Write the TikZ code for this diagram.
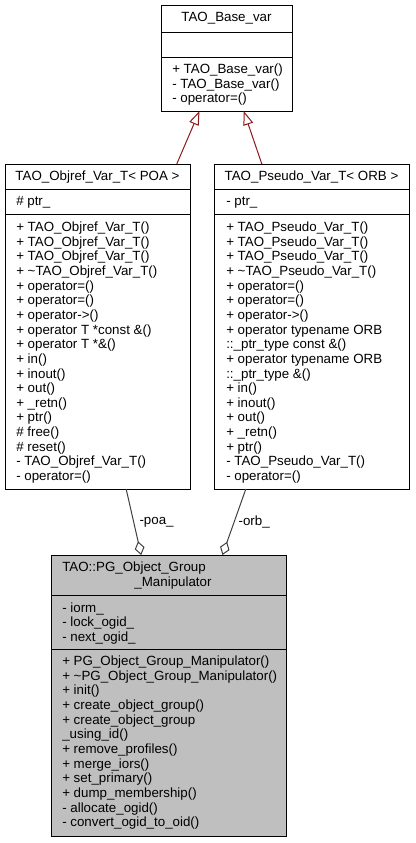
\documentclass[tikz,border=0pt]{standalone}
\usepackage{fontspec}
\setmainfont{Liberation Sans}
\usetikzlibrary{arrows.meta}
\definecolor{edgered}{HTML}{8B1A1A}
\definecolor{edgegray}{HTML}{404040}
\definecolor{boxgray}{HTML}{BFBFBF}
\tikzset{
  classbox/.style={draw=black, line width=0.75pt, fill=white, inner sep=0pt, outer sep=0pt, anchor=north west},
  member/.style={anchor=base west, inner sep=0pt},
  classname/.style={anchor=base, inner sep=0pt},
  inherit/.style={draw=edgered, line width=0.75pt, -{Triangle[open, length=10.5pt, width=7.5pt]}},
  aggr/.style={draw=edgegray, line width=0.75pt, {Diamond[open, length=10.5pt, width=7.5pt]}-},
  every node/.append style={font=\fontsize{10}{12}\selectfont}
}
\begin{document}
\begin{tikzpicture}[x=0.75pt, y=-0.75pt]
\fill[white] (0,0) rectangle (415,843);
\useasboundingbox (0,0) rectangle (415,843);
% boxes
\node[classbox, minimum width=98.25pt, minimum height=79.5pt] (base) at (161,5) {};
\node[classbox, minimum width=138.75pt, minimum height=243.75pt] (objref) at (5,164) {};
\node[classbox, minimum width=146.25pt, minimum height=243.75pt] (pseudo) at (214,164) {};
\node[classbox, fill=boxgray, minimum width=176.25pt, minimum height=210.75pt] (manip) at (51,555) {};
\draw [black, line width=0.75pt] (161,32) -- (292,32);
\draw [black, line width=0.75pt] (161,57) -- (292,57);
\draw [black, line width=0.75pt] (5,189) -- (190,189);
\draw [black, line width=0.75pt] (5,214) -- (190,214);
\draw [black, line width=0.75pt] (214,189) -- (409,189);
\draw [black, line width=0.75pt] (214,214) -- (409,214);
\draw [black, line width=0.75pt] (51,595) -- (286,595);
\draw [black, line width=0.75pt] (51,649) -- (286,649);
% TAO_Base_var
\node[classname] (bt) at (226.5,21.5) {TAO\_Base\_var};
\node[member] (bm1) at (172,73.5) {+ TAO\_Base\_var()};
\node[member] (bm2) at (172,88) {- TAO\_Base\_var()};
\node[member] (bm3) at (172,102.5) {- operator=()};
% TAO_Objref_Var_T
\node[classname] (ot) at (97.5,180.5) {TAO\_Objref\_Var\_T< POA >};
\node[member] (oa1) at (16,205.5) {\# ptr\_};
\node[member] (om1) at (16,231.5) {+ TAO\_Objref\_Var\_T()};
\node[member] (om2) at (16,246.15) {+ TAO\_Objref\_Var\_T()};
\node[member] (om3) at (16,260.8) {+ TAO\_Objref\_Var\_T()};
\node[member] (om4) at (16,275.45) {+ \textasciitilde TAO\_Objref\_Var\_T()};
\node[member] (om5) at (16,290.1) {+ operator=()};
\node[member] (om6) at (16,304.75) {+ operator=()};
\node[member] (om7) at (16,319.4) {+ operator->()};
\node[member] (om8) at (16,334.05) {+ operator T *const \&()};
\node[member] (om9) at (16,348.7) {+ operator T *\&()};
\node[member] (om10) at (16,363.35) {+ in()};
\node[member] (om11) at (16,378) {+ inout()};
\node[member] (om12) at (16,392.65) {+ out()};
\node[member] (om13) at (16,407.3) {+ \_retn()};
\node[member] (om14) at (16,421.95) {+ ptr()};
\node[member] (om15) at (16,436.6) {\# free()};
\node[member] (om16) at (16,451.25) {\# reset()};
\node[member] (om17) at (16,465.9) {- TAO\_Objref\_Var\_T()};
\node[member] (om18) at (16,480.55) {- operator=()};
% TAO_Pseudo_Var_T
\node[classname] (pt) at (311.5,180.5) {TAO\_Pseudo\_Var\_T< ORB >};
\node[member] (pa1) at (226,205.5) {- ptr\_};
\node[member] (pm1) at (226,231.5) {+ TAO\_Pseudo\_Var\_T()};
\node[member] (pm2) at (226,246.15) {+ TAO\_Pseudo\_Var\_T()};
\node[member] (pm3) at (226,260.8) {+ TAO\_Pseudo\_Var\_T()};
\node[member] (pm4) at (226,275.45) {+ \textasciitilde TAO\_Pseudo\_Var\_T()};
\node[member] (pm5) at (226,290.1) {+ operator=()};
\node[member] (pm6) at (226,304.75) {+ operator=()};
\node[member] (pm7) at (226,319.4) {+ operator->()};
\node[member] (pm8) at (226,334.05) {+ operator typename ORB};
\node[member] (pm9) at (226,348.7) {::\_ptr\_type const \&()};
\node[member] (pm10) at (226,363.35) {+ operator typename ORB};
\node[member] (pm11) at (226,378) {::\_ptr\_type \&()};
\node[member] (pm12) at (226,392.65) {+ in()};
\node[member] (pm13) at (226,407.3) {+ inout()};
\node[member] (pm14) at (226,421.95) {+ out()};
\node[member] (pm15) at (226,436.6) {+ \_retn()};
\node[member] (pm16) at (226,451.25) {+ ptr()};
\node[member] (pm17) at (226,465.9) {- TAO\_Pseudo\_Var\_T()};
\node[member] (pm18) at (226,480.55) {- operator=()};
% TAO::PG_Object_Group_Manipulator
\node[member] (mt1) at (62,571.5) {TAO::PG\_Object\_Group};
\node[classname] (mt2) at (173,586.5) {\_Manipulator};
\node[member] (ma1) at (62,612) {- iorm\_};
\node[member] (ma2) at (62,626.5) {- lock\_ogid\_};
\node[member] (ma3) at (62,641) {- next\_ogid\_};
\node[member] (mm1) at (62,665.5) {+ PG\_Object\_Group\_Manipulator()};
\node[member] (mm2) at (62,680.15) {+ \textasciitilde PG\_Object\_Group\_Manipulator()};
\node[member] (mm3) at (62,694.8) {+ init()};
\node[member] (mm4) at (62,709.45) {+ create\_object\_group()};
\node[member] (mm5) at (62,724.1) {+ create\_object\_group};
\node[member] (mm6) at (62,738.75) {\_using\_id()};
\node[member] (mm7) at (62,753.4) {+ remove\_profiles()};
\node[member] (mm8) at (62,768.05) {+ merge\_iors()};
\node[member] (mm9) at (62,782.7) {+ set\_primary()};
\node[member] (mm10) at (62,797.35) {+ dump\_membership()};
\node[member] (mm11) at (62,812) {- allocate\_ogid()};
\node[member] (mm12) at (62,826.65) {- convert\_ogid\_to\_oid()};
% edges
\draw [inherit] (objref.64.2) -- (base.243.43);
\draw [inherit] (pseudo.107.9) -- (base.288.3);
\draw [aggr] (manip.101.86) -- node[midway, anchor=west, xshift=4pt, inner sep=0pt] (poa) {-poa\_} (objref.280.63);
\draw [aggr] (manip.69.15) -- node[midway, anchor=west, xshift=3pt, inner sep=0pt] (orb) {-orb\_} (pseudo.248.66);
\end{tikzpicture}
\end{document}
